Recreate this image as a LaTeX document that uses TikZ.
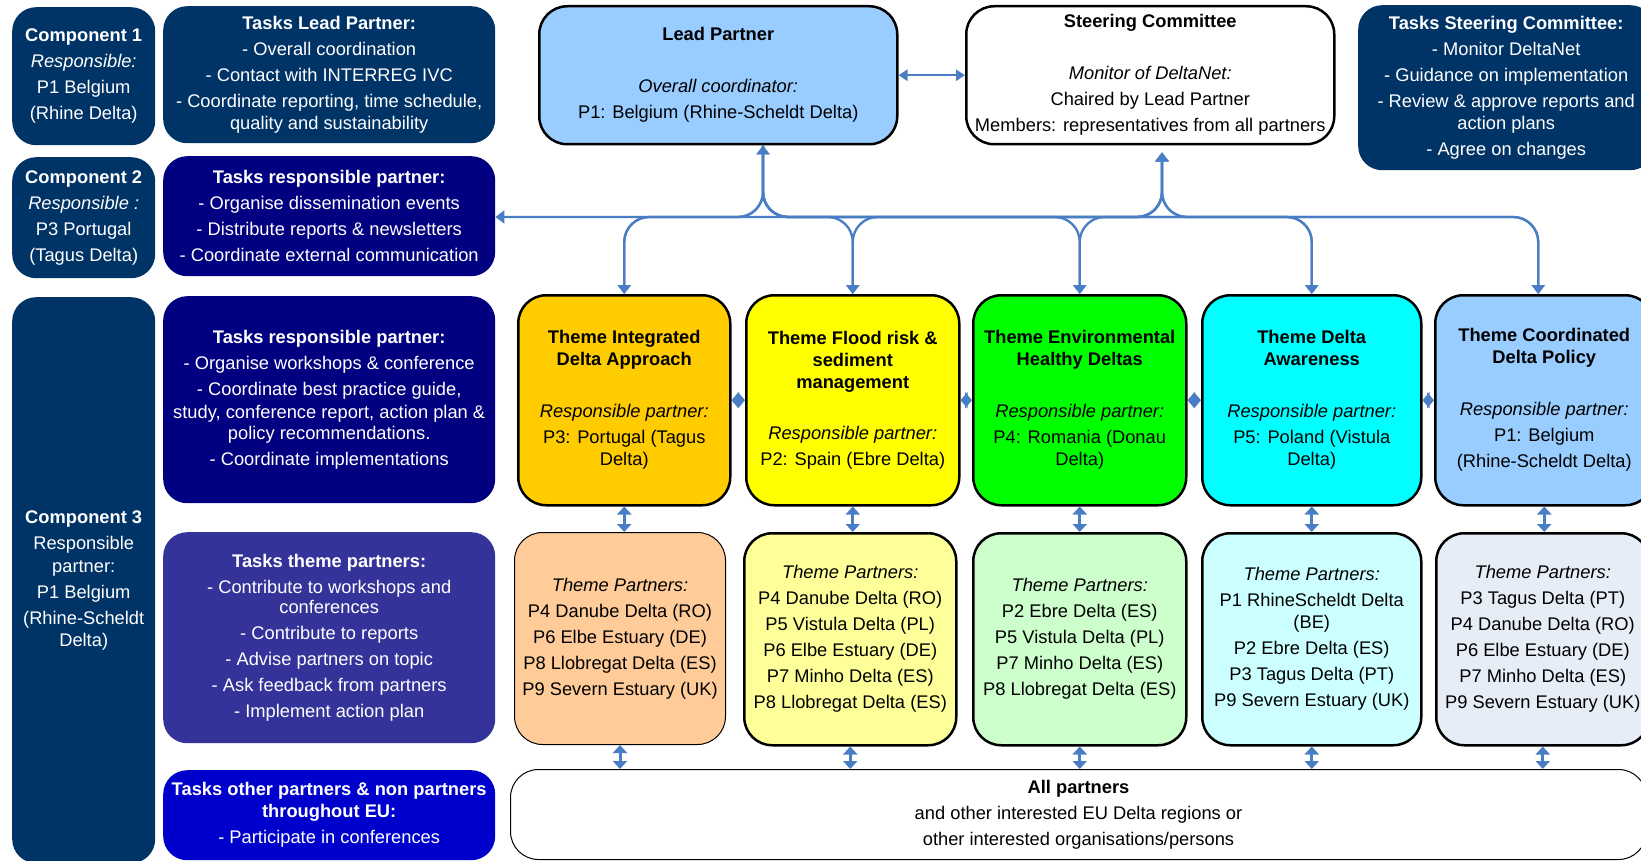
\documentclass[tikz,border=0pt]{standalone}
\usepackage{fontspec}
\setmainfont{Liberation Sans}
\usetikzlibrary{arrows.meta}
\definecolor{cdark}{HTML}{003366}
\definecolor{cnavy}{HTML}{000080}
\definecolor{cpurple}{HTML}{333399}
\definecolor{cblue}{HTML}{0000CC}
\definecolor{clight}{HTML}{99CCFF}
\definecolor{cgold}{HTML}{FFCC00}
\definecolor{cyel}{HTML}{FFFF00}
\definecolor{cgreen}{HTML}{00FF00}
\definecolor{ccyan}{HTML}{00FFFF}
\definecolor{cpeach}{HTML}{FFCC99}
\definecolor{cpyel}{HTML}{FFFF99}
\definecolor{cpgreen}{HTML}{CCFFCC}
\definecolor{cpcyan}{HTML}{CCFFFF}
\definecolor{cpgray}{HTML}{E6EDF7}
\definecolor{carrow}{HTML}{4A7EC4}
\newcommand\bx[7]{\node[#2,minimum width=#5pt,minimum height=#6pt,anchor=north west] (#1) at (#3,#4) {#7};}
\begin{document}
\begin{tikzpicture}[x=1pt,y=-1pt,
  base/.style={rounded corners=24pt,align=center,inner sep=0pt,font={\fontsize{18.3pt}{26pt}\selectfont}},
  dark/.style={base,text=white},
  theme/.style={base,draw=black,line width=2.5pt,rounded corners=28pt},
  thin/.style={base,draw=black,line width=1pt,rounded corners=28pt},
  conn/.style={draw=carrow,line width=2.3pt,rounded corners=25pt},
  tipA/.style={-{Triangle[width=13pt,length=9pt]}},
  tipAA/.style={{Triangle[width=13pt,length=9pt]}-{Triangle[width=13pt,length=9pt]}},
  vdbl/.style={draw=carrow,line width=3pt,{Triangle[width=14pt,length=8pt]}-{Triangle[width=14pt,length=8pt]}},
  hdbl/.style={draw=carrow,line width=2pt,{Triangle[width=16pt,length=7pt]}-{Triangle[width=16pt,length=7pt]}},
  ldbl/.style={draw=carrow,line width=2.2pt,{Triangle[width=11pt,length=9pt]}-{Triangle[width=11pt,length=9pt]}}
]
\useasboundingbox (0,0) rectangle (1641,861);
\clip (0,0) rectangle (1641,861);
\fill[white] (0,0) rectangle (1641,861);

% left column
\bx{comp1}{dark,fill=cdark}{12}{7}{143}{138}{\textbf{Component 1}\\\textit{Responsible:}\\P1 Belgium\\(Rhine Delta)}
\bx{taskLP}{dark,fill=cdark}{163}{6}{332}{137}{\textbf{Tasks Lead Partner:}\\- Overall coordination\\- Contact with INTERREG IVC\\- Coordinate reporting, time schedule,\\[-4pt]quality and sustainability}
\bx{comp2}{dark,fill=cdark}{12}{157}{143}{121}{\textbf{Component 2}\\\textit{Responsible :}\\P3 Portugal\\(Tagus Delta)}
\bx{task2}{dark,fill=cnavy}{163}{156}{332}{120}{\textbf{Tasks responsible partner:}\\- Organise dissemination events\\- Distribute reports \& newsletters\\- Coordinate external communication}
\bx{comp3}{dark,fill=cdark}{12}{297}{143}{566}{\textbf{Component 3}\\Responsible\\[-3pt]partner:\\P1 Belgium\\(Rhine-Scheldt\\[-4pt]Delta)}
\bx{task3}{dark,fill=cnavy}{163}{296}{332}{207}{\textbf{Tasks responsible partner:}\\- Organise workshops \& conference\\- Coordinate best practice guide,\\[-3pt]study, conference report, action plan \&\\[-5pt]policy recommendations.\\- Coordinate implementations}
\bx{task4}{dark,fill=cpurple}{163}{532}{332}{211}{\textbf{Tasks theme partners:}\\- Contribute to workshops and\\[-6pt]conferences\\- Contribute to reports\\- Advise partners on topic\\- Ask feedback from partners\\- Implement action plan}
\bx{task5}{dark,fill=cblue}{163}{770}{332}{90}{\textbf{Tasks other partners \& non partners}\\[-4pt]\textbf{throughout EU:}\\- Participate in conferences}

% top row
\bx{lead}{theme,fill=clight}{538}{5}{358}{138}{\textbf{Lead Partner}\\[26pt]\textit{Overall coordinator:}\\P1: Belgium (Rhine-Scheldt Delta)}
\bx{steer}{theme,fill=white}{965}{5}{368}{138}{\textbf{Steering Committee}\\[26pt]\textit{Monitor of DeltaNet:}\\Chaired by Lead Partner\\Members: representatives from all partners}
\bx{tsteer}{dark,fill=cdark}{1358}{5}{296}{165}{\textbf{Tasks Steering Committee:}\\- Monitor DeltaNet\\- Guidance on implementation\\- Review \& approve reports and\\[-4pt]action plans\\- Agree on changes}

% themes
\bx{T1}{theme,fill=cgold}{517}{294}{212}{210}{\textbf{Theme Integrated}\\[-4pt]\textbf{Delta Approach}\\[26pt]\textit{Responsible partner:}\\P3: Portugal (Tagus\\[-4pt]Delta)}
\bx{T2}{theme,fill=cyel}{745}{294}{213}{210}{\textbf{Theme Flood risk \&}\\[-4pt]\textbf{sediment}\\[-4pt]\textbf{management}\\[25pt]\textit{Responsible partner:}\\P2: Spain (Ebre Delta)}
\bx{T3}{theme,fill=cgreen}{972}{294}{213}{210}{\textbf{Theme Environmental}\\[-4pt]\textbf{Healthy Deltas}\\[26pt]\textit{Responsible partner:}\\P4: Romania (Donau\\[-4pt]Delta)}
\bx{T4}{theme,fill=ccyan}{1201}{294}{219}{210}{\textbf{Theme Delta}\\[-4pt]\textbf{Awareness}\\[26pt]\textit{Responsible partner:}\\P5: Poland (Vistula\\[-4pt]Delta)}
\bx{T5}{theme,fill=clight}{1434}{294}{218}{210}{\textbf{Theme Coordinated}\\[-4pt]\textbf{Delta Policy}\\[26pt]\textit{Responsible partner:}\\P1: Belgium\\(Rhine-Scheldt Delta)}

% theme partners
\bx{TP1}{thin,fill=cpeach}{514}{532}{211}{212}{\textit{Theme Partners:}\\P4 Danube Delta (RO)\\P6 Elbe Estuary (DE)\\P8 Llobregat Delta (ES)\\P9 Severn Estuary (UK)}
\bx{TP2}{theme,fill=cpyel}{743}{532}{212}{212}{\textit{Theme Partners:}\\P4 Danube Delta (RO)\\P5 Vistula Delta (PL)\\P6 Elbe Estuary (DE)\\P7 Minho Delta (ES)\\P8 Llobregat Delta (ES)}
\bx{TP3}{theme,fill=cpgreen}{972}{532}{213}{212}{\textit{Theme Partners:}\\P2 Ebre Delta (ES)\\P5 Vistula Delta (PL)\\P7 Minho Delta (ES)\\P8 Llobregat Delta (ES)}
\bx{TP4}{theme,fill=cpcyan}{1201}{532}{219}{212}{\textit{Theme Partners:}\\P1 RhineScheldt Delta\\[-4pt](BE)\\P2 Ebre Delta (ES)\\P3 Tagus Delta (PT)\\P9 Severn Estuary (UK)}
\bx{TP5}{theme,fill=cpgray}{1435}{532}{213}{212}{\textit{Theme Partners:}\\P3 Tagus Delta (PT)\\P4 Danube Delta (RO)\\P6 Elbe Estuary (DE)\\P7 Minho Delta (ES)\\P9 Severn Estuary (UK)}

% all partners
\bx{allp}{thin,fill=white}{510}{769}{1136}{90}{\textbf{All partners}\\and other interested EU Delta regions or\\other interested organisations/persons}

% hub connectors
\coordinate (hL) at (763,217);
\coordinate (hS) at (1162,217);
\coordinate (in1) at (T1.north);
\coordinate (in2) at (T2.north);
\coordinate (in3) at (T3.north);
\coordinate (in4) at (T4.north);
\coordinate (in5) at ([xshift=-6pt]T5.north);
\draw[conn,tipAA] (lead.south -| hL) -- (hL) -- (task2.east |- hL);
\draw[conn,tipAA] (lead.south -| hL) -- (hL) -- (hL -| in1) -- (in1);
\foreach \t in {in2,in3,in4,in5}{
  \draw[conn,tipA] (lead.south -| hL) -- (hL) -- (hL -| \t) -- (\t);
}
\foreach \t in {in1,in2,in3,in4,in5}{
  \draw[conn,tipAA,shorten <=7pt] (steer.south -| hS) -- (hS) -- (hS -| \t) -- (\t);
}

% lead <-> steering
\draw[ldbl] (lead.east) -- (steer.west);

% horizontal diamonds between themes
\draw[hdbl] (T1.east) -- (T2.west);
\draw[hdbl] (T2.east) -- (T3.west);
\draw[hdbl] (T3.east) -- (T4.west);
\draw[hdbl] (T4.east) -- (T5.west);

% vertical double arrows
\foreach \a/\b in {T1/TP1,T2/TP2,T3/TP3,T4/TP4,T5/TP5}{
  \draw[vdbl] (\a.south) -- (\a.south |- \b.north);
  \draw[vdbl] (\b.south) -- (\b.south |- allp.north);
}
\end{tikzpicture}
\end{document}
